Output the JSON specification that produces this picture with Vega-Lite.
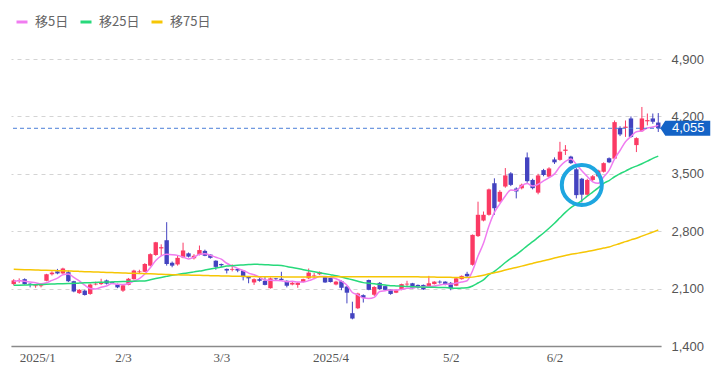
{
  "$schema": "https://vega.github.io/schema/vega-lite/v6.json",
  "width": 650,
  "height": 287,
  "autosize": {"type": "none"},
  "padding": {"left": 11, "top": 59, "right": 67, "bottom": 26},
  "background": "#ffffff",
  "config": {"view": {"stroke": null}, "font": "Liberation Sans"},
  "data": {"values": [
{"d":"2025-01-06","o":2155,"h":2215,"l":2140,"c":2200,"m5":2190,"m25":2140,"m75":2335},
{"d":"2025-01-07","o":2195,"h":2225,"l":2170,"c":2205,"m5":2195,"m25":2142,"m75":2333},
{"d":"2025-01-08","o":2215,"h":2225,"l":2150,"c":2155,"m5":2190,"m25":2144,"m75":2331},
{"d":"2025-01-09","o":2160,"h":2165,"l":2115,"c":2150,"m5":2180,"m25":2146,"m75":2329},
{"d":"2025-01-10","o":2130,"h":2155,"l":2110,"c":2140,"m5":2170,"m25":2148,"m75":2327},
{"d":"2025-01-14","o":2130,"h":2150,"l":2115,"c":2140,"m5":2158,"m25":2150,"m75":2325},
{"d":"2025-01-15","o":2195,"h":2280,"l":2190,"c":2275,"m5":2172,"m25":2153,"m75":2323},
{"d":"2025-01-16","o":2275,"h":2310,"l":2260,"c":2295,"m5":2200,"m25":2155,"m75":2321},
{"d":"2025-01-17","o":2310,"h":2340,"l":2275,"c":2285,"m5":2227,"m25":2158,"m75":2319},
{"d":"2025-01-20","o":2285,"h":2355,"l":2280,"c":2345,"m5":2268,"m25":2160,"m75":2317},
{"d":"2025-01-21","o":2300,"h":2320,"l":2180,"c":2190,"m5":2278,"m25":2162,"m75":2315},
{"d":"2025-01-22","o":2190,"h":2195,"l":2055,"c":2065,"m5":2236,"m25":2165,"m75":2312},
{"d":"2025-01-23","o":2045,"h":2095,"l":2035,"c":2085,"m5":2194,"m25":2167,"m75":2310},
{"d":"2025-01-24","o":2075,"h":2085,"l":2015,"c":2022,"m5":2141,"m25":2170,"m75":2307},
{"d":"2025-01-27","o":2035,"h":2160,"l":2025,"c":2150,"m5":2102,"m25":2172,"m75":2305},
{"d":"2025-01-28","o":2150,"h":2185,"l":2140,"c":2160,"m5":2096,"m25":2175,"m75":2302},
{"d":"2025-01-29","o":2155,"h":2220,"l":2145,"c":2170,"m5":2117,"m25":2177,"m75":2300},
{"d":"2025-01-30","o":2200,"h":2210,"l":2150,"c":2160,"m5":2132,"m25":2180,"m75":2297},
{"d":"2025-01-31","o":2180,"h":2190,"l":2155,"c":2165,"m5":2161,"m25":2182,"m75":2295},
{"d":"2025-02-03","o":2150,"h":2160,"l":2105,"c":2115,"m5":2154,"m25":2185,"m75":2292},
{"d":"2025-02-04","o":2075,"h":2145,"l":2060,"c":2140,"m5":2150,"m25":2187,"m75":2290},
{"d":"2025-02-05","o":2145,"h":2230,"l":2140,"c":2220,"m5":2160,"m25":2189,"m75":2288},
{"d":"2025-02-06","o":2215,"h":2330,"l":2210,"c":2320,"m5":2192,"m25":2191,"m75":2286},
{"d":"2025-02-07","o":2300,"h":2330,"l":2280,"c":2310,"m5":2221,"m25":2192,"m75":2284},
{"d":"2025-02-10","o":2305,"h":2410,"l":2300,"c":2400,"m5":2278,"m25":2194,"m75":2282},
{"d":"2025-02-12","o":2380,"h":2530,"l":2370,"c":2520,"m5":2354,"m25":2208,"m75":2280},
{"d":"2025-02-13","o":2510,"h":2670,"l":2500,"c":2665,"m5":2443,"m25":2222,"m75":2278},
{"d":"2025-02-14","o":2590,"h":2640,"l":2500,"c":2605,"m5":2500,"m25":2235,"m75":2275},
{"d":"2025-02-17","o":2690,"h":2910,"l":2380,"c":2400,"m5":2518,"m25":2249,"m75":2273},
{"d":"2025-02-18","o":2415,"h":2430,"l":2360,"c":2380,"m5":2514,"m25":2263,"m75":2270},
{"d":"2025-02-19","o":2395,"h":2500,"l":2380,"c":2475,"m5":2505,"m25":2273,"m75":2268},
{"d":"2025-02-20","o":2480,"h":2660,"l":2470,"c":2565,"m5":2485,"m25":2283,"m75":2266},
{"d":"2025-02-21","o":2530,"h":2540,"l":2480,"c":2490,"m5":2462,"m25":2294,"m75":2265},
{"d":"2025-02-25","o":2470,"h":2520,"l":2455,"c":2500,"m5":2482,"m25":2304,"m75":2263},
{"d":"2025-02-26","o":2510,"h":2625,"l":2505,"c":2570,"m5":2520,"m25":2314,"m75":2262},
{"d":"2025-02-27","o":2560,"h":2575,"l":2495,"c":2500,"m5":2525,"m25":2326,"m75":2260},
{"d":"2025-02-28","o":2515,"h":2520,"l":2465,"c":2475,"m5":2507,"m25":2338,"m75":2258},
{"d":"2025-03-03","o":2440,"h":2445,"l":2330,"c":2365,"m5":2482,"m25":2351,"m75":2257},
{"d":"2025-03-04","o":2400,"h":2405,"l":2360,"c":2385,"m5":2459,"m25":2363,"m75":2255},
{"d":"2025-03-05","o":2340,"h":2345,"l":2285,"c":2320,"m5":2409,"m25":2375,"m75":2254},
{"d":"2025-03-06","o":2330,"h":2395,"l":2310,"c":2340,"m5":2377,"m25":2380,"m75":2252},
{"d":"2025-03-07","o":2340,"h":2345,"l":2300,"c":2320,"m5":2346,"m25":2384,"m75":2251},
{"d":"2025-03-10","o":2320,"h":2325,"l":2200,"c":2240,"m5":2321,"m25":2389,"m75":2250},
{"d":"2025-03-11","o":2245,"h":2250,"l":2165,"c":2225,"m5":2289,"m25":2393,"m75":2248},
{"d":"2025-03-12","o":2175,"h":2225,"l":2145,"c":2215,"m5":2268,"m25":2398,"m75":2247},
{"d":"2025-03-13","o":2215,"h":2230,"l":2185,"c":2195,"m5":2239,"m25":2395,"m75":2246},
{"d":"2025-03-14","o":2195,"h":2240,"l":2140,"c":2145,"m5":2204,"m25":2392,"m75":2245},
{"d":"2025-03-17","o":2105,"h":2235,"l":2100,"c":2225,"m5":2201,"m25":2388,"m75":2244},
{"d":"2025-03-18","o":2225,"h":2230,"l":2200,"c":2215,"m5":2199,"m25":2385,"m75":2243},
{"d":"2025-03-19","o":2220,"h":2305,"l":2195,"c":2205,"m5":2197,"m25":2382,"m75":2243},
{"d":"2025-03-21","o":2195,"h":2200,"l":2115,"c":2135,"m5":2185,"m25":2369,"m75":2242},
{"d":"2025-03-24","o":2150,"h":2180,"l":2140,"c":2170,"m5":2190,"m25":2356,"m75":2242},
{"d":"2025-03-25","o":2145,"h":2180,"l":2110,"c":2170,"m5":2179,"m25":2344,"m75":2242},
{"d":"2025-03-26","o":2180,"h":2220,"l":2175,"c":2215,"m5":2179,"m25":2331,"m75":2242},
{"d":"2025-03-27","o":2225,"h":2345,"l":2215,"c":2295,"m5":2197,"m25":2318,"m75":2242},
{"d":"2025-03-28","o":2250,"h":2290,"l":2215,"c":2260,"m5":2222,"m25":2306,"m75":2242},
{"d":"2025-03-31","o":2275,"h":2310,"l":2265,"c":2300,"m5":2248,"m25":2294,"m75":2243},
{"d":"2025-04-01","o":2240,"h":2245,"l":2170,"c":2175,"m5":2249,"m25":2282,"m75":2243},
{"d":"2025-04-02","o":2230,"h":2235,"l":2175,"c":2180,"m5":2242,"m25":2270,"m75":2244},
{"d":"2025-04-03","o":2150,"h":2195,"l":2140,"c":2185,"m5":2220,"m25":2258,"m75":2244},
{"d":"2025-04-04","o":2190,"h":2200,"l":2080,"c":2110,"m5":2190,"m25":2241,"m75":2245},
{"d":"2025-04-07","o":2125,"h":2130,"l":1920,"c":2050,"m5":2140,"m25":2224,"m75":2246},
{"d":"2025-04-08","o":1800,"h":1940,"l":1725,"c":1735,"m5":2052,"m25":2207,"m75":2246},
{"d":"2025-04-09","o":1860,"h":2050,"l":1850,"c":2040,"m5":2024,"m25":2190,"m75":2246},
{"d":"2025-04-10","o":2020,"h":2030,"l":1930,"c":1985,"m5":1984,"m25":2173,"m75":2246},
{"d":"2025-04-11","o":2205,"h":2210,"l":2080,"c":2085,"m5":1979,"m25":2166,"m75":2246},
{"d":"2025-04-14","o":2025,"h":2130,"l":2010,"c":2120,"m5":1993,"m25":2158,"m75":2246},
{"d":"2025-04-15","o":2170,"h":2180,"l":2085,"c":2095,"m5":2065,"m25":2151,"m75":2246},
{"d":"2025-04-16","o":2130,"h":2135,"l":2080,"c":2085,"m5":2074,"m25":2143,"m75":2246},
{"d":"2025-04-17","o":2090,"h":2095,"l":2025,"c":2035,"m5":2084,"m25":2136,"m75":2246},
{"d":"2025-04-18","o":2050,"h":2090,"l":2045,"c":2080,"m5":2083,"m25":2133,"m75":2246},
{"d":"2025-04-21","o":2085,"h":2160,"l":2080,"c":2155,"m5":2090,"m25":2130,"m75":2245},
{"d":"2025-04-22","o":2150,"h":2195,"l":2125,"c":2160,"m5":2103,"m25":2127,"m75":2245},
{"d":"2025-04-23","o":2165,"h":2170,"l":2100,"c":2105,"m5":2107,"m25":2124,"m75":2244},
{"d":"2025-04-24","o":2145,"h":2150,"l":2100,"c":2110,"m5":2122,"m25":2121,"m75":2243},
{"d":"2025-04-25","o":2145,"h":2150,"l":2085,"c":2090,"m5":2124,"m25":2119,"m75":2242},
{"d":"2025-04-28","o":2125,"h":2255,"l":2115,"c":2165,"m5":2126,"m25":2117,"m75":2241},
{"d":"2025-04-30","o":2155,"h":2190,"l":2150,"c":2185,"m5":2131,"m25":2116,"m75":2240},
{"d":"2025-05-01","o":2185,"h":2200,"l":2160,"c":2175,"m5":2145,"m25":2114,"m75":2239},
{"d":"2025-05-02","o":2185,"h":2190,"l":2140,"c":2145,"m5":2152,"m25":2112,"m75":2238},
{"d":"2025-05-07","o":2170,"h":2180,"l":2080,"c":2105,"m5":2155,"m25":2106,"m75":2237},
{"d":"2025-05-08","o":2135,"h":2230,"l":2130,"c":2225,"m5":2167,"m25":2103,"m75":2236},
{"d":"2025-05-09","o":2215,"h":2260,"l":2210,"c":2255,"m5":2181,"m25":2106,"m75":2236},
{"d":"2025-05-12","o":2280,"h":2305,"l":2240,"c":2250,"m5":2196,"m25":2109,"m75":2235},
{"d":"2025-05-13","o":2390,"h":2760,"l":2380,"c":2755,"m5":2318,"m25":2132,"m75":2240},
{"d":"2025-05-14","o":2740,"h":3160,"l":2730,"c":3000,"m5":2497,"m25":2168,"m75":2251},
{"d":"2025-05-15","o":2930,"h":3040,"l":2920,"c":3000,"m5":2652,"m25":2206,"m75":2264},
{"d":"2025-05-16","o":3000,"h":3320,"l":2990,"c":3310,"m5":2863,"m25":2269,"m75":2280},
{"d":"2025-05-19","o":3385,"h":3445,"l":3000,"c":3080,"m5":3029,"m25":2310,"m75":2294},
{"d":"2025-05-20","o":3160,"h":3300,"l":3150,"c":3280,"m5":3134,"m25":2362,"m75":2309},
{"d":"2025-05-21","o":3345,"h":3570,"l":3330,"c":3480,"m5":3230,"m25":2418,"m75":2327},
{"d":"2025-05-22","o":3505,"h":3520,"l":3350,"c":3365,"m5":3303,"m25":2468,"m75":2343},
{"d":"2025-05-23","o":3320,"h":3335,"l":3200,"c":3285,"m5":3298,"m25":2515,"m75":2358},
{"d":"2025-05-26","o":3325,"h":3380,"l":3310,"c":3365,"m5":3355,"m25":2567,"m75":2374},
{"d":"2025-05-27","o":3700,"h":3760,"l":3390,"c":3410,"m5":3381,"m25":2622,"m75":2391},
{"d":"2025-05-28","o":3425,"h":3440,"l":3310,"c":3325,"m5":3350,"m25":2672,"m75":2407},
{"d":"2025-05-29","o":3270,"h":3500,"l":3250,"c":3480,"m5":3373,"m25":2725,"m75":2424},
{"d":"2025-05-30","o":3545,"h":3560,"l":3470,"c":3485,"m5":3413,"m25":2778,"m75":2439},
{"d":"2025-06-02","o":3465,"h":3580,"l":3455,"c":3565,"m5":3453,"m25":2836,"m75":2456},
{"d":"2025-06-03","o":3675,"h":3700,"l":3620,"c":3640,"m5":3499,"m25":2897,"m75":2472},
{"d":"2025-06-04","o":3670,"h":3890,"l":3660,"c":3770,"m5":3588,"m25":2964,"m75":2489},
{"d":"2025-06-05","o":3780,"h":3850,"l":3730,"c":3795,"m5":3651,"m25":3030,"m75":2504},
{"d":"2025-06-06","o":3710,"h":3720,"l":3620,"c":3630,"m5":3680,"m25":3088,"m75":2518},
{"d":"2025-06-09","o":3555,"h":3570,"l":3200,"c":3240,"m5":3615,"m25":3130,"m75":2529},
{"d":"2025-06-10","o":3440,"h":3450,"l":3150,"c":3245,"m5":3536,"m25":3174,"m75":2540},
{"d":"2025-06-11","o":3245,"h":3440,"l":3235,"c":3425,"m5":3467,"m25":3227,"m75":2553},
{"d":"2025-06-12","o":3425,"h":3485,"l":3410,"c":3470,"m5":3402,"m25":3277,"m75":2565},
{"d":"2025-06-13","o":3470,"h":3550,"l":3460,"c":3540,"m5":3384,"m25":3328,"m75":2579},
{"d":"2025-06-16","o":3525,"h":3640,"l":3515,"c":3630,"m5":3462,"m25":3383,"m75":2594},
{"d":"2025-06-17","o":3690,"h":3700,"l":3630,"c":3640,"m5":3541,"m25":3418,"m75":2608},
{"d":"2025-06-18","o":3685,"h":4150,"l":3675,"c":4130,"m5":3682,"m25":3464,"m75":2630},
{"d":"2025-06-19","o":4060,"h":4080,"l":3960,"c":3980,"m5":3784,"m25":3503,"m75":2650},
{"d":"2025-06-20","o":4060,"h":4150,"l":3950,"c":4075,"m5":3891,"m25":3533,"m75":2673},
{"d":"2025-06-23","o":4175,"h":4200,"l":3940,"c":3950,"m5":3955,"m25":3568,"m75":2694},
{"d":"2025-06-24","o":3850,"h":3945,"l":3765,"c":3935,"m5":4014,"m25":3594,"m75":2715},
{"d":"2025-06-25","o":4020,"h":4315,"l":4010,"c":4175,"m5":4023,"m25":3622,"m75":2740},
{"d":"2025-06-26","o":4140,"h":4235,"l":4090,"c":4155,"m5":4058,"m25":3654,"m75":2764},
{"d":"2025-06-27","o":4175,"h":4235,"l":4110,"c":4135,"m5":4070,"m25":3688,"m75":2789},
{"d":"2025-06-30","o":4125,"h":4240,"l":4010,"c":4055,"m5":4091,"m25":3715,"m75":2814}
  ]},
  "encoding": {
    "x": {
      "field": "d",
      "type": "ordinal",
      "scale": {"paddingInner": 0, "paddingOuter": 0},
      "axis": {
        "values": ["2025-01-06", "2025-02-03", "2025-03-03", "2025-04-01", "2025-05-02", "2025-06-02"],
        "labelExpr": "datum.value == '2025-01-06' ? '2025/1' : datum.value == '2025-04-01' ? '2025/4' : toNumber(slice(datum.value, 5, 7)) + '/' + toNumber(slice(datum.value, 8, 10))",
        "title": null,
        "ticks": false,
        "grid": false,
        "labelAngle": 0,
        "labelFont": "Liberation Sans Narrow",
        "labelFontSize": 13,
        "labelColor": "#555555",
        "labelOffset": 6,
        "labelFlush": 10,
        "labelPadding": 5,
        "domainColor": "#8a8a8a",
        "domainWidth": 1.5
      }
    }
  },
  "layer": [
    {
      "mark": {"type": "rule", "strokeWidth": 1},
      "encoding": {
        "y": {
          "field": "l",
          "type": "quantitative",
          "scale": {"domain": [1400, 4900], "nice": false, "zero": false},
          "axis": {
            "orient": "right",
            "values": [1400, 2100, 2800, 3500, 4200, 4900],
            "labelExpr": "format(datum.value, ',')",
            "title": null,
            "ticks": false,
            "domain": false,
            "grid": true,
            "gridDash": [4, 4],
            "gridColor": "#d4d4d4",
            "labelColor": "#555555",
            "labelFont": "Liberation Sans",
            "labelFontSize": 13,
            "labelPadding": 10
          }
        },
        "y2": {"field": "h"},
        "color": {"condition": {"test": "datum.c >= datum.o", "value": "#fb3a64"}, "value": "#4343c0"}
      }
    },
    {
      "mark": {"type": "bar", "size": 4.4},
      "encoding": {
        "y": {"field": "o", "type": "quantitative"},
        "y2": {"field": "c"},
        "color": {"condition": {"test": "datum.c >= datum.o", "value": "#fb3a64"}, "value": "#4343c0"}
      }
    },
    {
      "transform": [{"fold": ["m5", "m25", "m75"], "as": ["series", "val"]}],
      "mark": {"type": "line", "strokeWidth": 1.5, "interpolate": "monotone"},
      "encoding": {
        "y": {"field": "val", "type": "quantitative"},
        "detail": {"field": "series"},
        "color": {
          "field": "series",
          "type": "nominal",
          "scale": {"domain": ["m5", "m25", "m75"], "range": ["#f07cf0", "#27d97b", "#f6c604"]},
          "legend": {
            "title": null,
            "orient": "none",
            "legendX": 4,
            "legendY": -44,
            "direction": "horizontal",
            "padding": 0,
            "symbolType": "stroke",
            "symbolStrokeWidth": 3,
            "symbolSize": 121,
            "labelFont": "Noto Sans CJK JP",
            "labelFontSize": 13,
            "labelColor": "#666666",
            "labelOffset": 6,
            "columnPadding": 5,
            "labelExpr": "datum.label == 'm5' ? '移5日' : datum.label == 'm25' ? '移25日' : '移75日'"
          }
        }
      }
    },
    {
      "data": {"values": [{"v": 4055}]},
      "mark": {"type": "rule", "color": "#4a7fd8", "strokeWidth": 1, "strokeDash": [4, 3]},
      "encoding": {"x": null, "y": {"field": "v", "type": "quantitative"}}
    },
    {
      "data": {"values": [{"d": "2025-06-10", "v": 3363}]},
      "mark": {"type": "point", "shape": "circle", "filled": false, "size": 1600, "strokeWidth": 4, "color": "#1ea6e0", "opacity": 1},
      "encoding": {"y": {"field": "v", "type": "quantitative"}}
    },
    {
      "data": {"values": [{"d": "2025-06-30", "v": 4055, "t": "4,055"}]},
      "mark": {"type": "point", "shape": "M0.04,0 L0.135,-0.144 L1,-0.144 L1,0.144 L0.135,0.144 Z", "filled": true, "size": 10816, "color": "#1463c6", "opacity": 1, "strokeWidth": 0},
      "encoding": {"y": {"field": "v", "type": "quantitative"}}
    },
    {
      "data": {"values": [{"d": "2025-06-30", "v": 4055, "t": "4,055"}]},
      "mark": {"type": "text", "dx": 30, "align": "center", "baseline": "middle", "color": "#ffffff", "font": "Liberation Sans", "fontSize": 13},
      "encoding": {"y": {"field": "v", "type": "quantitative"}, "text": {"field": "t"}}
    }
  ]
}
